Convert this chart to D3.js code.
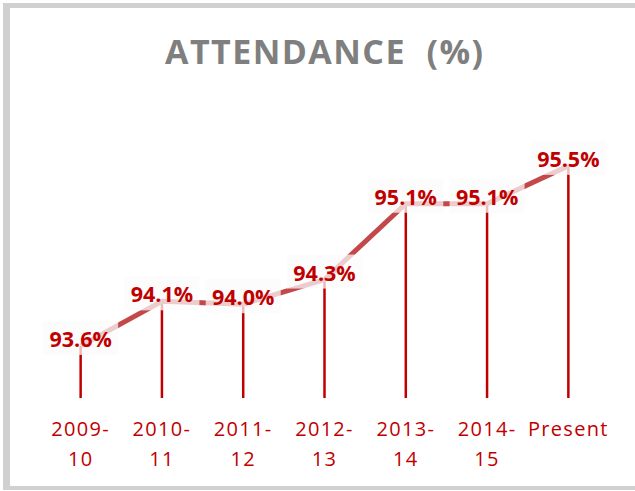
<!DOCTYPE html>
<html>
<head>
<meta charset="utf-8">
<script src="https://cdn.jsdelivr.net/npm/d3@7"></script>
<style>
  html, body { margin: 0; padding: 0; background: #ffffff; }
  svg { display: block; }
</style>
</head>
<body>
<div id="chart"></div>
<script>
// categories (two-line tick labels) and attendance values
const periods = ['2009-10', '2010-11', '2011-12', '2012-13', '2013-14', '2014-15', 'Present'];
const tickLines = [['2009-', '10'], ['2010-', '11'], ['2011-', '12'], ['2012-', '13'], ['2013-', '14'], ['2014-', '15'], ['Present']];
const attendance = [93.6, 94.07, 94.04, 94.3, 95.1, 95.1, 95.5];

const width = 635, height = 491;
const red = '#c00000';
const titleText = 'ATTENDANCE \u00a0(%)';

const svg = d3.select('#chart').append('svg')
    .attr('width', width)
    .attr('height', height);

// grey frame (right edge is cropped off in the reference)
const frame = svg.append('g').attr('fill', '#d0d0d0');
frame.append('rect').attr('x', 3).attr('y', 3).attr('width', width).attr('height', 5);
frame.append('rect').attr('x', 3).attr('y', 486).attr('width', width).attr('height', 4);
frame.append('rect').attr('x', 3).attr('y', 3).attr('width', 7).attr('height', 487);

// title, stretched to the reference width with letter spacing
const title = svg.append('text')
    .attr('x', 324)
    .attr('y', 64)
    .attr('text-anchor', 'middle')
    .attr('fill', '#7f7f7f')
    .attr('font-family', '"Open Sans", sans-serif')
    .attr('font-weight', 700)
    .attr('font-size', 34)
    .text(titleText);
{
    const natural = title.node().getComputedTextLength();
    const ls = (318 - natural) / (titleText.length - 1);
    title.attr('letter-spacing', ls).attr('x', 324 + ls / 2);
}

const x = d3.scaleBand()
    .domain(periods)
    .range([40, 609])
    .padding(0);

const y = d3.scaleLinear()
    .domain([93.05, 96])
    .range([398, 118.5]);

const cx = (p) => x(p) + x.bandwidth() / 2;
const pts = periods.map((p, i) => ({ period: p, value: attendance[i] }));

// drop lines to the base
svg.append('g')
    .selectAll('line')
    .data(pts)
    .join('line')
    .attr('x1', (d) => cx(d.period))
    .attr('x2', (d) => cx(d.period))
    .attr('y1', (d) => y(d.value))
    .attr('y2', y(93.05))
    .attr('stroke', red)
    .attr('stroke-width', 2.5);

// connecting line
svg.append('path')
    .datum(pts)
    .attr('fill', 'none')
    .attr('stroke', '#c4484a')
    .attr('stroke-width', 5)
    .attr('d', d3.line().x((d) => cx(d.period)).y((d) => y(d.value)));

// semi-transparent label boxes
svg.append('g')
    .selectAll('rect')
    .data(pts)
    .join('rect')
    .attr('x', (d) => cx(d.period) - 37.5)
    .attr('y', (d) => y(d.value) - 25)
    .attr('width', 75)
    .attr('height', 34)
    .attr('fill', '#fbfbfb')
    .attr('opacity', 0.74);

// value labels
svg.append('g')
    .selectAll('text')
    .data(pts)
    .join('text')
    .attr('x', (d) => cx(d.period))
    .attr('y', (d) => y(d.value) + 1)
    .attr('text-anchor', 'middle')
    .attr('fill', red)
    .attr('font-family', '"Open Sans", sans-serif')
    .attr('font-weight', 700)
    .attr('font-size', 21.5)
    .text((d) => d3.format('.1f')(d.value) + '%');

// x tick labels (two lines)
const xl = svg.append('g')
    .attr('fill', red)
    .attr('font-family', '"Open Sans", sans-serif')
    .attr('font-size', 20)
    .attr('letter-spacing', 1.3);
periods.forEach((p, i) => {
    const t = xl.append('text')
        .attr('x', cx(p))
        .attr('y', 436)
        .attr('text-anchor', 'middle');
    tickLines[i].forEach((line, j) => {
        t.append('tspan')
            .attr('x', cx(p))
            .attr('dy', j === 0 ? 0 : 30)
            .text(line);
    });
});
</script>
</body>
</html>
